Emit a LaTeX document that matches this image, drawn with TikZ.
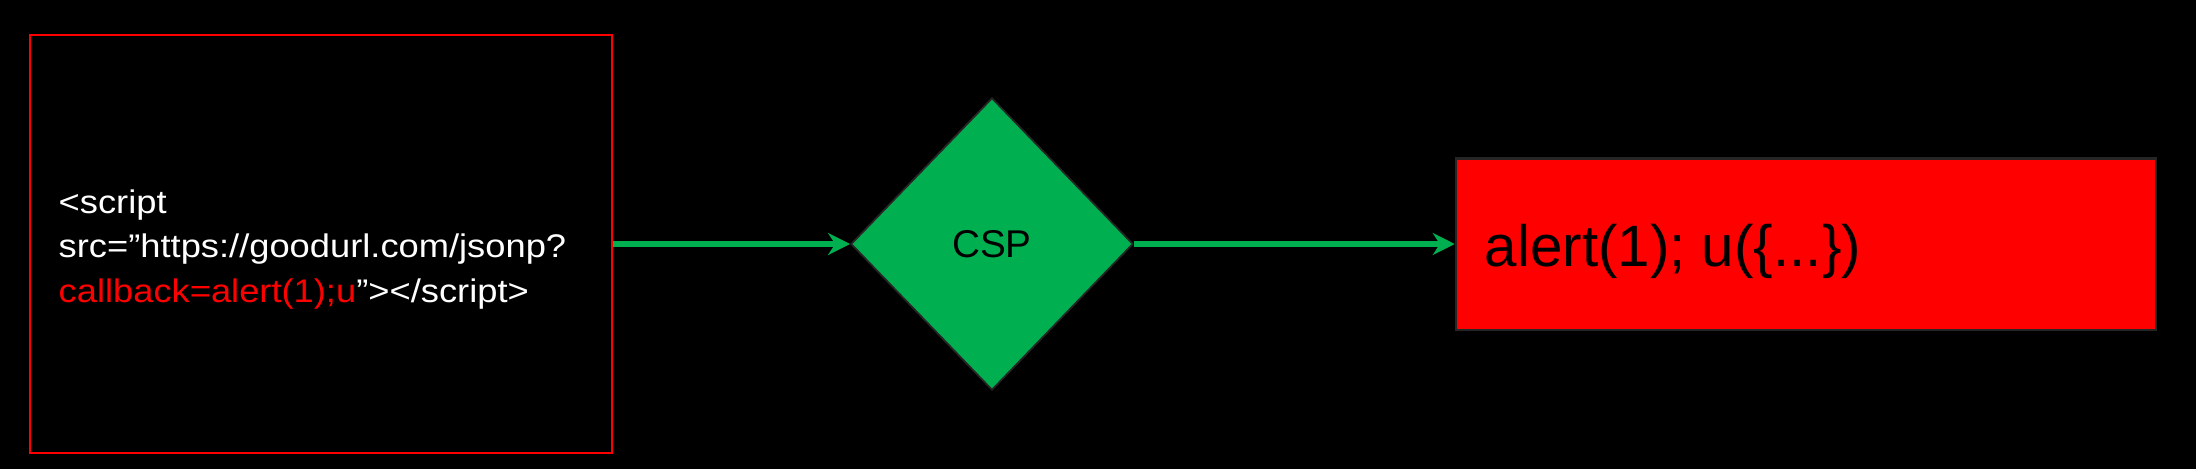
\documentclass[tikz,border=0pt]{standalone}
\usepackage{fontspec}
\setmainfont{Liberation Sans}
\newfontfamily\widesans[FakeStretch=1.11]{Liberation Sans}
\usepackage{xcolor}
\usepackage{tikz}
\usetikzlibrary{shapes.geometric,arrows.meta}
\definecolor{pptgreen}{HTML}{00B050}
\definecolor{edgegray}{HTML}{262626}

\begin{document}
\begin{tikzpicture}[x=0.01cm,y=-0.01cm,
  flow/.style={draw=pptgreen,line width=1.8pt,-{Stealth[length=0.22cm,width=0.22cm]}}]
  \fill[black] (0,0) rectangle (2196,469);
  \useasboundingbox (0,0) rectangle (2196,469);
  \node[draw=red,line width=0.6pt,minimum width=5.81cm,minimum height=4.17cm] (src) at (321,244) {};
  \node[anchor=base west,inner sep=0pt,align=left,text=white,
        font=\widesans\fontsize{9.3}{12.6}\selectfont] (srctext) at (58,302)
    {<script\\src=”https://goodurl.com/jsonp?\\\textcolor{red}{callback=alert(1);u}”></script>};
  \node[diamond,fill=pptgreen,draw=edgegray,line width=0.5pt,inner sep=0pt,
        minimum width=2.82cm,minimum height=2.92cm,
        font=\fontsize{11}{13}\selectfont] (csp) at (992,244) {CSP};
  \node[fill=red,draw=edgegray,line width=0.6pt,minimum width=7.0cm,minimum height=1.71cm] (res) at (1806,244) {};
  \node[anchor=base west,inner sep=0pt,font=\fontsize{16.6}{20}\selectfont] (restext) at (1484,266) {alert(1); u(\{...\})};
  \draw[flow] (src.east) -- (csp.west);
  \draw[flow] (csp.east) -- (res.west);
\end{tikzpicture}
\end{document}
